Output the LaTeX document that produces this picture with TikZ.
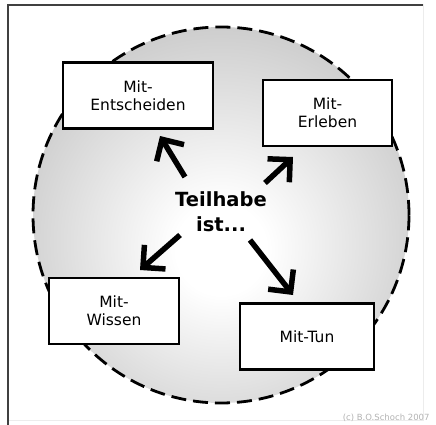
\documentclass[tikz,border=0pt]{standalone}
\usepackage{fontspec}
\setmainfont{DejaVu Sans}
\usepackage{tikz}
\usetikzlibrary{arrows.meta}

\pgfdeclareradialshading{discshade}{\pgfpoint{0bp}{-5bp}}{color(0bp)=(white); color(6bp)=(white); color(47bp)=(gray!72); color(75bp)=(gray!72)}

\begin{document}
\begin{tikzpicture}[x=1pt, y=-1pt,
  box/.style={draw, line width=2.8pt, fill=white, align=center, minimum height=66pt,
    font=\fontsize{15.5}{18}\selectfont, inner sep=0pt},
  bigarrow/.style={-{Straight Barb[length=16pt, width=32pt]}, line width=5.5pt},
  ]
  \useasboundingbox (0,0) rectangle (436,425);
  \draw[gray!15, line width=1pt] (8,5) rectangle (423,420);
  \draw[black!75, line width=1.8pt] (8,425) -- (8,5) -- (423,5);

  \node[circle, minimum size=376pt, inner sep=0pt, shading=discshade,
        draw, dash pattern=on 15pt off 7pt, line width=2.8pt] (disc) at (221,215) {};

  \node[box, minimum width=150pt] (ent) at (138,95.5) {Mit-\\Entscheiden};
  \node[box, minimum width=129pt] (erl) at (327.5,113) {Mit-\\Erleben};
  \node[box, minimum width=130pt] (wis) at (114,311) {Mit-\\Wissen};
  \node[box, minimum width=134pt] (tun) at (307,336.5) {Mit-Tun};

  \node[align=center, font=\fontsize{19.5}{25}\selectfont\bfseries] (teil) at (221,212) {Teilhabe\\ist...};

  \coordinate (s1) at (185,177); \coordinate (t1) at (160,136);
  \coordinate (s2) at (265,183); \coordinate (t2) at (293,157);
  \coordinate (s3) at (180,235); \coordinate (t3) at (140,270);
  \coordinate (s4) at (250,240); \coordinate (t4) at (293,295);
  \path[bigarrow] (s1) edge (t1) (s2) edge (t2) (s3) edge (t3) (s4) edge (t4);

  \node[gray!60, font=\fontsize{8.5}{10}\selectfont, anchor=east] (copy) at (433,418) {(c) B.O.Schoch 2007};
\end{tikzpicture}
\end{document}
